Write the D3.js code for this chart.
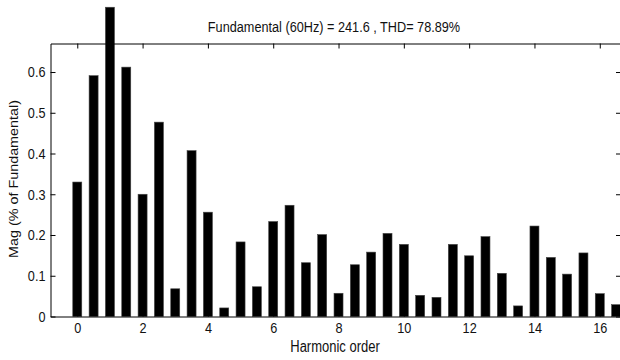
<!DOCTYPE html>
<html>
<head>
<meta charset="utf-8">
<script src="https://cdn.jsdelivr.net/npm/d3@7"></script>
<style>
  body { margin: 0; background: #fff; }
  svg { display: block; }
  text { font-family: "Liberation Sans", Arial, sans-serif; fill: #111; }
</style>
</head>
<body>
<div id="chart"></div>
<script>
// Harmonic spectrum values
var harmonicOrder = [0, 0.5, 1, 1.5, 2, 2.5, 3, 3.5, 4, 4.5, 5, 5.5, 6, 6.5, 7, 7.5, 8, 8.5,
  9, 9.5, 10, 10.5, 11, 11.5, 12, 12.5, 13, 13.5, 14, 14.5, 15, 15.5, 16, 16.5];
var magnitude = [0.330, 0.591, 0.759, 0.612, 0.300, 0.477, 0.068, 0.407, 0.256, 0.021, 0.183, 0.073,
  0.233, 0.273, 0.132, 0.201, 0.057, 0.127, 0.158, 0.204, 0.177, 0.052, 0.047, 0.177, 0.149, 0.196,
  0.106, 0.026, 0.222, 0.145, 0.104, 0.156, 0.056, 0.029];
var xTicks = [0, 2, 4, 6, 8, 10, 12, 14, 16];
var yTicks = [0, 0.1, 0.2, 0.3, 0.4, 0.5, 0.6];
var titleText = 'Fundamental (60Hz) = 241.6 , THD= 78.89%';
var xLabel = 'Harmonic order';
var yLabel = 'Mag (% of Fundamental)';

// plot box (note: "top" is a reserved window global, so use other names)
var W = 620, H = 360;
var boxLeft = 50.5, boxRight = 621, boxTop = 43.5, boxBottom = 316.5;
var fs = 12.7, stretch = 1.2; // text in the picture is a little taller than wide

var svg = d3.select('#chart').append('svg')
  .attr('width', W)
  .attr('height', H);

var x = d3.scaleLinear().domain([-0.82, 16.65]).range([boxLeft, boxRight]);
var y = d3.scaleLinear().domain([0, 0.67]).range([boxBottom, boxTop]);

var data = harmonicOrder.map(function (h, i) { return { h: h, v: magnitude[i] }; });
var barW = 9;

// bars (not clipped to the axes, like the original)
svg.selectAll('.bar')
  .data(data)
  .enter().append('rect')
  .attr('class', 'bar')
  .attr('x', function (d) { return x(d.h) - barW / 2; })
  .attr('y', function (d) { return y(d.v); })
  .attr('width', barW)
  .attr('height', function (d) { return y(0) - y(d.v); })
  .attr('fill', '#000')
  .attr('stroke', '#444')
  .attr('stroke-width', 0.6);

// box + inward ticks
var bAxis = svg.append('g')
  .attr('transform', 'translate(0,' + boxBottom + ')')
  .call(d3.axisBottom(x).tickValues(xTicks).tickFormat(d3.format('d'))
    .tickSizeInner(-5).tickSizeOuter(0).tickPadding(5));
var tAxis = svg.append('g')
  .attr('transform', 'translate(0,' + boxTop + ')')
  .call(d3.axisTop(x).tickValues(xTicks).tickFormat('')
    .tickSizeInner(-5).tickSizeOuter(0));
var lAxis = svg.append('g')
  .attr('transform', 'translate(' + boxLeft + ',0)')
  .call(d3.axisLeft(y).tickValues(yTicks).tickFormat(function (d) { return d === 0 ? '0' : d3.format('.1f')(d); })
    .tickSizeInner(-5).tickSizeOuter(0).tickPadding(5));
var rAxis = svg.append('g')
  .attr('transform', 'translate(' + boxRight + ',0)')
  .call(d3.axisRight(y).tickValues(yTicks).tickFormat('')
    .tickSizeInner(-5).tickSizeOuter(0));

[bAxis, tAxis, lAxis, rAxis].forEach(function (g) {
  g.select('.domain').attr('stroke', '#000').attr('stroke-width', 1);
  g.selectAll('.tick line').attr('stroke', '#000');
  g.selectAll('.tick text')
    .attr('fill', '#111')
    .style('font-size', fs + 'px')
    .style('font-family', '"Liberation Sans", Arial, sans-serif')
    .attr('transform', 'scale(1,' + stretch + ')');
});

// title and axis labels
svg.append('text')
  .attr('transform', 'translate(334,31.7) scale(1,' + stretch + ')')
  .attr('text-anchor', 'middle')
  .style('font-size', fs + 'px')
  .text(titleText);

svg.append('text')
  .attr('transform', 'translate(335,351.5) scale(1,' + stretch + ')')
  .attr('text-anchor', 'middle')
  .style('font-size', '13px')
  .text(xLabel);

// y label: stretched along its length like the rest of the picture
svg.append('text')
  .attr('transform', 'translate(18,179) rotate(-90)')
  .attr('text-anchor', 'middle')
  .attr('textLength', 158)
  .attr('lengthAdjust', 'spacingAndGlyphs')
  .style('font-size', '12.5px')
  .text(yLabel);
</script>
</body>
</html>
